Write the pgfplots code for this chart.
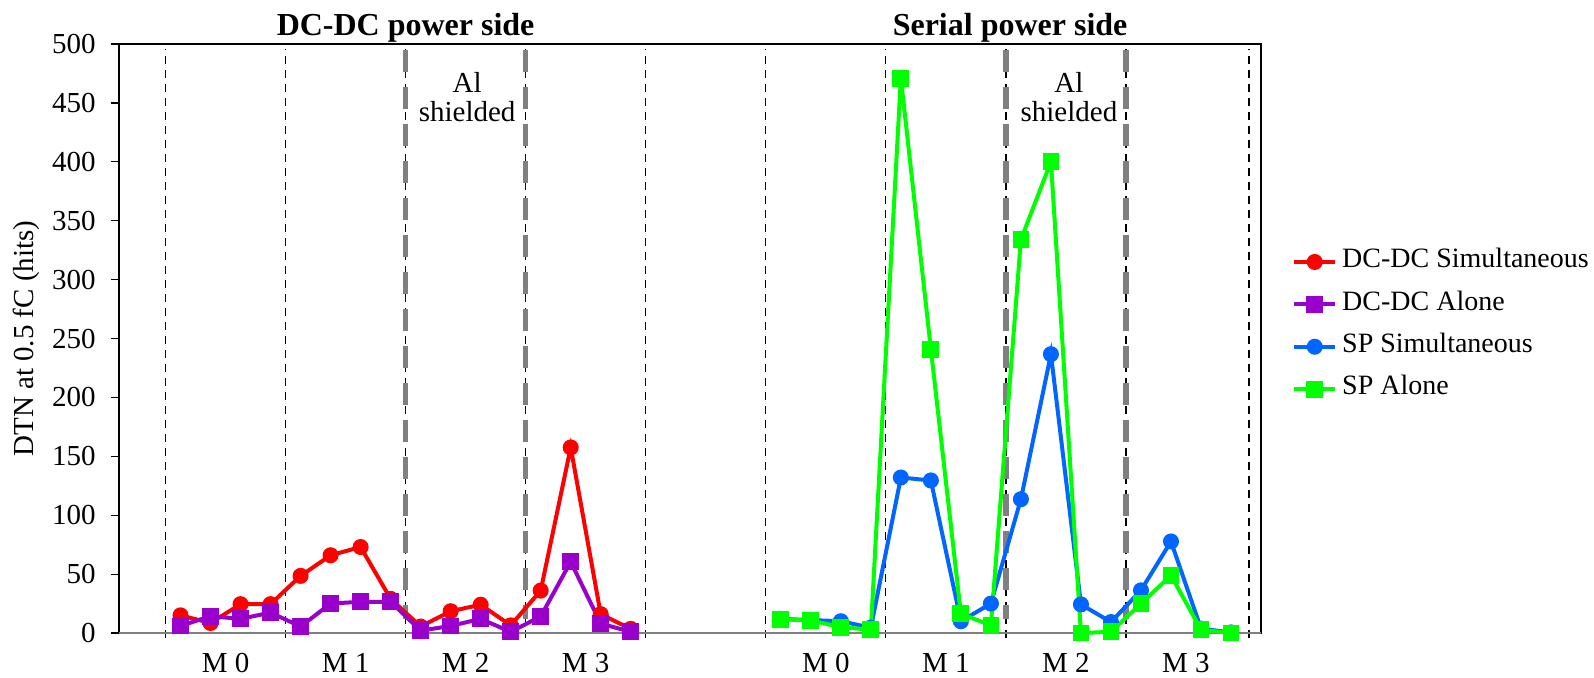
\documentclass[border=0pt]{standalone}
\usepackage{fontspec}
\setmainfont{Liberation Serif}
\usepackage{pgfplots}
\pgfplotsset{compat=1.18}
\definecolor{dcsim}{RGB}{255,0,0}
\definecolor{dcalone}{RGB}{153,0,204}
\definecolor{spsim}{RGB}{0,102,255}
\definecolor{spalone}{RGB}{0,255,0}
\definecolor{shield}{RGB}{128,128,128}
\newcommand{\lbl}{\fontsize{14.5}{17}\selectfont}

\begin{document}
\begin{tikzpicture}
\path[use as bounding box] (-59.5pt,-22pt) rectangle (737.5pt,316.5pt);
\begin{axis}[
    at={(0,0)}, anchor=south west,
    width=571pt, height=294.5pt, scale only axis,
    xmin=-2.05, xmax=36, ymin=0, ymax=500,
    clip=false,
    axis line style={black, line width=0.6pt},
    ytick={0,50,...,500},
    xtick={1.5,5.5,9.5,13.5,21.5,25.5,29.5,33.5},
    xticklabels={M 0,M 1,M 2,M 3,M 0,M 1,M 2,M 3},
    xtick style={draw=none},
    ytick style={black, line width=0.6pt},
    ytick pos=left,
    tick align=outside,
    major tick length=4pt,
    /pgf/number format/assume math mode=true,
    tick label style={font=\lbl},
    yticklabel style={anchor=east, inner sep=0pt, xshift=-7.5pt},
    xticklabel style={anchor=base, inner sep=0pt, yshift=-15.5pt},
    ylabel={DTN at 0.5 fC (hits)},
    ylabel style={font=\lbl, at={(axis description cs:-0.0814,0.5)}, anchor=center},
    legend cell align=left,
    legend style={at={(axis description cs:1.027,0.522)}, anchor=west,
        draw=none, fill=none, font=\fontsize{14}{16}\selectfont,
        row sep=0pt, inner sep=0pt,
        /tikz/every odd column/.append style={column sep=2.5pt},
        nodes={inner sep=0pt, text height=13.5pt, text depth=7.7pt}},
    legend image code/.code={\draw[mark repeat=2,mark phase=2] plot coordinates {(0cm,0cm) (0.36cm,0cm) (0.72cm,0cm)};},
    every axis plot/.append style={line width=2pt, mark options={solid}},
]

% module separators
\pgfplotsinvokeforeach{-0.5,3.5,7.5,11.5,15.5,19.5,23.5,27.5,31.5,35.6}{
  \draw[black, line width=0.6pt, dash pattern=on 4pt off 3pt] (axis cs:#1,-4) -- (axis cs:#1,496);
}
% shielded region borders
\pgfplotsinvokeforeach{7.5,11.5,27.5,31.5}{
  \draw[shield, line width=2.6pt, dash pattern=on 11pt off 7.5pt] (axis cs:#1,495) -- (axis cs:#1,12);
}
\draw[shield, line width=1.2pt] (axis cs:-2.05,0) -- (axis cs:36,0);

\addplot[color=dcsim, mark=*, mark size=3pt] coordinates {
 (0,15) (1,8.5) (2,24.5) (3,24.5) (4,48.5) (5,66) (6,73) (7,29)
 (8,5.5) (9,18.5) (10,24) (11,6.5) (12,36) (13,157.5) (14,16) (15,3.5)
};
\addlegendentry{DC-DC Simultaneous}
\addplot[color=dcalone, mark=square*, mark size=3.2pt] coordinates {
 (0,6) (1,14.3) (2,12) (3,17.3) (4,5.5) (5,25) (6,26.5) (7,26.5)
 (8,2) (9,6) (10,12) (11,1) (12,14) (13,60.5) (14,8) (15,1)
};
\addlegendentry{DC-DC Alone}
\addplot[color=spsim, mark=*, mark size=3pt] coordinates {
 (20,12) (21,11) (22,10) (23,4.5) (24,132) (25,129.5) (26,10) (27,25)
 (28,113.6) (29,236.7) (30,24.3) (31,9.3) (32,36.2) (33,77.7) (34,3.7) (35,0.5)
};
\addlegendentry{SP Simultaneous}
\addplot[color=spalone, mark=square*, mark size=3.2pt] coordinates {
 (20,11.6) (21,10.7) (22,5) (23,2.8) (24,471) (25,241) (26,16.4) (27,6.5)
 (28,334) (29,400) (30,0) (31,1) (32,24.9) (33,48.9) (34,2.8) (35,0)
};
\addlegendentry{SP Alone}

\node[font=\bfseries\fontsize{16}{19}\selectfont, anchor=base, yshift=4.5pt] at (axis cs:7.5,500) {DC-DC power side};
\node[font=\bfseries\fontsize{16}{19}\selectfont, anchor=base, yshift=4.5pt] at (axis cs:27.64,500) {Serial power side};
\node[font=\lbl, anchor=base] at (axis cs:9.55,459) {Al};
\node[font=\lbl, anchor=base] at (axis cs:9.55,434) {shielded};
\node[font=\lbl, anchor=base] at (axis cs:29.6,459) {Al};
\node[font=\lbl, anchor=base] at (axis cs:29.6,434) {shielded};
\end{axis}
\end{tikzpicture}
\end{document}
